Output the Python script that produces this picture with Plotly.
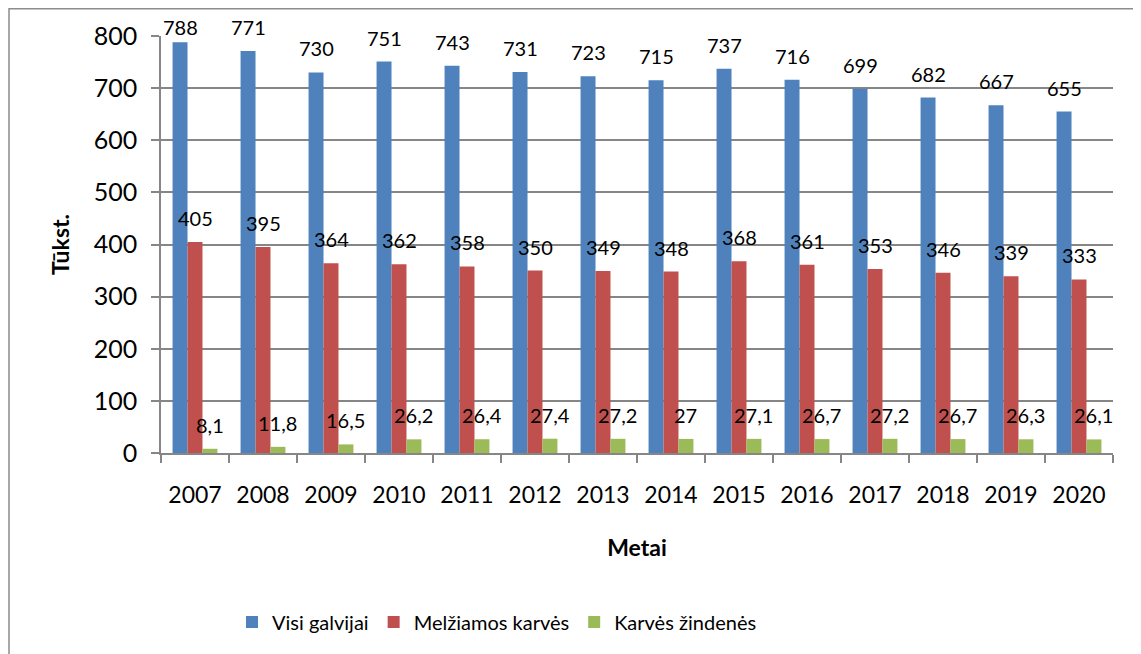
import plotly.graph_objects as go

years = ["2007", "2008", "2009", "2010", "2011", "2012", "2013", "2014", "2015", "2016", "2017", "2018", "2019", "2020"]
visi = [788, 771, 730, 751, 743, 731, 723, 715, 737, 716, 699, 682, 667, 655]
melz = [405, 395, 364, 362, 358, 350, 349, 348, 368, 361, 353, 346, 339, 333]
zind = [8.1, 11.8, 16.5, 26.2, 26.4, 27.4, 27.2, 27, 27.1, 26.7, 27.2, 26.7, 26.3, 26.1]
names = ["Visi galvijai", "Melžiamos karvės", "Karvės žindenės"]
colors = ["#4F81BD", "#C0504D", "#9BBB59"]

FONT = "Lato"
OFF = 8  # page body margin
W, H = 1141 - OFF, 654 - OFF
L, R, T, B = 161 - OFF, 1113 - OFF, 36 - OFF, 453 - OFF
YMAX = 800

pw, ph = R - L, B - T
def px(x):
    return (x - L) / pw
def py(y):
    return (B - y) / ph

def lab(v):
    return [str(x).replace(".", ",") for x in v]

fig = go.Figure()
for vals, nm, c in zip([visi, melz, zind], names, colors):
    fig.add_trace(go.Bar(
        x=years, y=vals, name=nm, marker=dict(color=c, line=dict(width=0)),
    ))

# data labels (Excel style: centered ~24px above bar top, kept inside chart area)
catw = pw / len(years)
barw = catw * (1 - 0.34) / 3
label_top_limit = 27 - OFF
for k, vals in enumerate([visi, melz, zind]):
    for i, (v, t) in enumerate(zip(vals, lab(vals))):
        top_px = B - v / YMAX * ph
        shift = min(24, top_px - label_top_limit)
        fig.add_annotation(x=i, y=v, text=t, showarrow=False, xref="x", yref="y",
                           xshift=(k - 1) * barw, yshift=shift, yanchor="middle",
                           font=dict(family=FONT, size=20, color="black"))

fig.add_shape(type="rect", xref="paper", yref="paper",
              x0=px(1), x1=px(1160), y0=py(0.8), y1=py(680),
              line=dict(color="#8C8C8C", width=1.5), fillcolor="rgba(0,0,0,0)", layer="below")

fig.update_layout(
    width=W, height=H,
    margin=dict(l=L, r=W - R, t=T, b=H - B),
    paper_bgcolor="white", plot_bgcolor="white",
    barmode="group", bargap=0.34, bargroupgap=0,
    font=dict(family=FONT, size=24, color="black"),
    showlegend=True,
    legend=dict(orientation="h", x=px(497 - OFF), xanchor="center", y=py(622 - OFF), yanchor="middle",
                font=dict(family=FONT, size=20), traceorder="normal", itemwidth=30),
)
fig.update_xaxes(
    type="category", range=[-0.5, len(years) - 0.5], autorange=False,
    showgrid=False, showline=True, linecolor="#868686", linewidth=1.5,
    ticks="outside", tickson="boundaries", ticklen=8, tickcolor="#868686", tickwidth=1.5,
    tickfont=dict(family=FONT, size=23), ticklabelstandoff=21, tickangle=0,
    title=dict(text="<b>Metai</b>", font=dict(family=FONT, size=23), standoff=33),
)
fig.update_yaxes(
    range=[0, YMAX], dtick=100, showgrid=True, gridcolor="#868686", gridwidth=1.5,
    showline=True, linecolor="#868686", linewidth=1.5, zeroline=False,
    ticks="outside", ticklen=8, tickcolor="#868686", tickwidth=1.5,
    tickfont=dict(family=FONT, size=25), ticklabelstandoff=9,
    title=dict(text="<b>Tūkst.</b>", font=dict(family=FONT, size=23), standoff=18),
)

fig.write_html("out.html")
